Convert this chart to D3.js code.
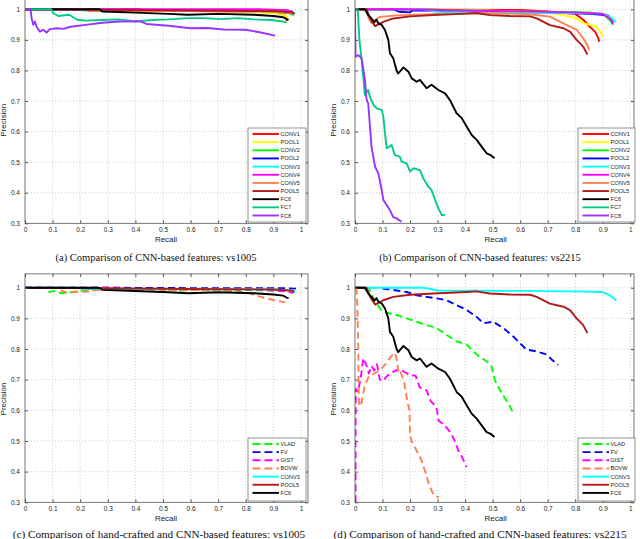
<!DOCTYPE html>
<html>
<head>
<meta charset="utf-8">
<script src="https://cdn.jsdelivr.net/npm/d3@7"></script>
<style>
  body { margin: 0; background: #fff; }
  text { font-family: "Liberation Sans", Arial, sans-serif; fill: #222; }
  .caption { font-family: "Liberation Serif", "Times New Roman", serif; fill: #111; }
</style>
</head>
<body>
<svg id="chart" width="640" height="539"></svg>
<script>
// tick values
const xTicks = [0, 0.1, 0.2, 0.3, 0.4, 0.5, 0.6, 0.7, 0.8, 0.9, 1];
const yTicks = [0.3, 0.4, 0.5, 0.6, 0.7, 0.8, 0.9, 1];

// (a) vs1005, CNN layers  -- [recall, precision]
const a_CONV1 = [[0,1],[0.42,1],[0.43,0.995],[0.6,0.994],[0.8,0.993],[0.9,0.99],[0.94,0.982],[0.95,0.962]];
const a_POOL1 = [[0,1],[0.27,1],[0.37,0.998],[0.8,0.993],[0.93,0.985],[0.955,0.972]];
const a_CONV2 = [[0,1],[0.27,1],[0.35,0.998],[0.85,0.994],[0.95,0.988],[0.97,0.982]];
const a_POOL2 = [[0,1],[0.5,0.998],[0.9,0.994],[0.965,0.988],[0.97,0.984]];
const a_CONV3 = [[0,1],[0.2,1],[0.21,0.996],[0.5,0.996],[0.9,0.995],[0.975,0.99],[0.978,0.985]];
const a_CONV4 = [[0,1],[0.85,1],[0.95,0.997],[0.97,0.992]];
const a_CONV5 = [[0,1],[0.22,1],[0.23,0.994],[0.6,0.994],[0.9,0.992],[0.97,0.987],[0.975,0.98]];
const a_POOL5 = [[0,1],[0.3,0.998],[0.6,0.996],[0.9,0.994],[0.97,0.99],[0.975,0.984]];
const a_FC6 = [[0,1],[0.27,1],[0.28,0.993],[0.4,0.989],[0.52,0.985],[0.59,0.982],[0.7,0.985],[0.83,0.982],[0.9,0.978],[0.935,0.974],[0.948,0.968],[0.955,0.965]];
const a_FC7 = [[0,1],[0.095,1],[0.103,0.987],[0.12,0.978],[0.16,0.982],[0.19,0.966],[0.22,0.963],[0.28,0.965],[0.34,0.967],[0.4,0.96],[0.46,0.965],[0.52,0.967],[0.59,0.971],[0.65,0.971],[0.71,0.968],[0.77,0.971],[0.83,0.967],[0.89,0.965],[0.935,0.96],[0.948,0.957]];
const a_FC8 = [[0,1],[0.02,1],[0.024,0.971],[0.03,0.949],[0.036,0.96],[0.042,0.943],[0.054,0.927],[0.066,0.933],[0.078,0.924],[0.09,0.935],[0.115,0.938],[0.14,0.936],[0.165,0.943],[0.22,0.949],[0.28,0.956],[0.34,0.96],[0.415,0.961],[0.44,0.952],[0.52,0.946],[0.6,0.938],[0.66,0.939],[0.72,0.934],[0.8,0.933],[0.85,0.925],[0.906,0.914]];

// (b) vs2215, CNN layers
const b_CONV1 = [[0,1],[0.6,0.998],[0.7,0.993],[0.8,0.985],[0.83,0.965],[0.853,0.943],[0.872,0.927],[0.884,0.905],[0.887,0.894]];
const b_POOL1 = [[0,1],[0.35,1],[0.45,0.997],[0.7,0.99],[0.757,0.981],[0.805,0.97],[0.829,0.955],[0.853,0.949],[0.878,0.943],[0.89,0.927],[0.902,0.91]];
const b_CONV2 = [[0,1],[0.25,1],[0.4,0.996],[0.7,0.992],[0.85,0.99],[0.9,0.985],[0.925,0.965],[0.938,0.949]];
const b_POOL2 = [[0,1],[0.14,1],[0.16,0.992],[0.2,0.99],[0.21,0.997],[0.4,0.993],[0.7,0.989],[0.85,0.985],[0.92,0.98],[0.938,0.954]];
const b_CONV3 = [[0,1],[0.25,1],[0.3,0.991],[0.5,0.99],[0.8,0.988],[0.9,0.986],[0.926,0.975],[0.944,0.962],[0.948,0.958]];
const b_CONV4 = [[0,1],[0.18,1],[0.5,0.995],[0.8,0.99],[0.9,0.985],[0.925,0.97],[0.938,0.954]];
const b_CONV5 = [[0,1],[0.04,1],[0.05,0.97],[0.06,0.955],[0.07,0.963],[0.09,0.975],[0.15,0.98],[0.3,0.985],[0.5,0.987],[0.6,0.985],[0.65,0.982],[0.708,0.976],[0.757,0.954],[0.805,0.933],[0.829,0.905],[0.844,0.883],[0.851,0.867]];
const b_POOL5 = [[0,1],[0.042,1],[0.055,0.97],[0.073,0.945],[0.103,0.959],[0.139,0.97],[0.2,0.977],[0.285,0.981],[0.406,0.986],[0.44,0.988],[0.49,0.981],[0.563,0.978],[0.636,0.977],[0.66,0.97],[0.708,0.948],[0.757,0.938],[0.781,0.927],[0.805,0.9],[0.829,0.878],[0.844,0.852]];
const b_FC6 = [[0,1],[0.036,1],[0.048,0.981],[0.06,0.97],[0.07,0.958],[0.078,0.966],[0.085,0.954],[0.097,0.949],[0.109,0.932],[0.121,0.9],[0.127,0.856],[0.139,0.84],[0.151,0.8],[0.157,0.79],[0.176,0.81],[0.194,0.796],[0.206,0.774],[0.224,0.763],[0.236,0.769],[0.26,0.742],[0.278,0.753],[0.303,0.736],[0.327,0.725],[0.345,0.703],[0.369,0.66],[0.387,0.645],[0.406,0.616],[0.424,0.589],[0.442,0.573],[0.46,0.551],[0.478,0.529],[0.491,0.524],[0.507,0.513]];
const b_FC7 = [[0,1],[0.01,1],[0.016,0.9],[0.024,0.834],[0.03,0.78],[0.036,0.72],[0.048,0.736],[0.054,0.714],[0.067,0.687],[0.079,0.676],[0.097,0.671],[0.103,0.649],[0.109,0.594],[0.115,0.545],[0.133,0.556],[0.145,0.523],[0.163,0.518],[0.169,0.502],[0.188,0.496],[0.2,0.469],[0.212,0.48],[0.236,0.474],[0.248,0.447],[0.266,0.42],[0.278,0.409],[0.291,0.376],[0.303,0.349],[0.315,0.327],[0.327,0.327]];
const b_FC8 = [[0,1],[0.002,0.845],[0.012,0.85],[0.024,0.84],[0.036,0.77],[0.042,0.705],[0.048,0.692],[0.06,0.55],[0.073,0.485],[0.085,0.463],[0.097,0.409],[0.103,0.376],[0.115,0.36],[0.127,0.343],[0.139,0.32],[0.151,0.316],[0.169,0.305]];

// (c) vs1005, hand-crafted
const c_VLAD = [[0.085,0.985],[0.1,0.988],[0.115,0.99],[0.13,0.982],[0.16,0.984],[0.2,0.99],[0.27,0.995],[0.3,0.997],[0.5,0.995],[0.56,0.99],[0.6,0.993],[0.8,0.992],[0.95,0.99],[0.97,0.988]];
const c_FV = [[0,1],[0.3,1],[0.5,0.999],[0.8,0.998],[0.95,0.998],[0.985,0.997]];
const c_GIST = [[0,1],[0.27,1],[0.33,1],[0.35,0.996],[0.6,0.995],[0.85,0.994],[0.95,0.988],[0.97,0.982]];
const c_BOVW = [[0.13,0.992],[0.14,0.987],[0.16,0.984],[0.19,0.987],[0.22,0.987],[0.26,0.992],[0.4,0.993],[0.7,0.992],[0.8,0.985],[0.85,0.971],[0.9,0.96],[0.942,0.952]];

// (d) vs2215, hand-crafted
const d_VLAD = [[0,1],[0.05,1],[0.067,0.965],[0.091,0.932],[0.103,0.92],[0.127,0.916],[0.151,0.911],[0.188,0.9],[0.224,0.889],[0.26,0.878],[0.297,0.868],[0.333,0.846],[0.369,0.825],[0.406,0.814],[0.442,0.782],[0.478,0.76],[0.496,0.744],[0.509,0.696],[0.52,0.677],[0.533,0.655],[0.545,0.639],[0.557,0.623],[0.569,0.601],[0.579,0.587]];
const d_FV = [[0.1,0.997],[0.121,0.995],[0.151,0.991],[0.188,0.986],[0.224,0.975],[0.26,0.97],[0.297,0.965],[0.333,0.959],[0.369,0.943],[0.406,0.927],[0.442,0.905],[0.466,0.884],[0.502,0.889],[0.539,0.868],[0.575,0.841],[0.599,0.819],[0.623,0.798],[0.66,0.792],[0.696,0.782],[0.714,0.766],[0.738,0.748]];
const d_GIST = [[0.002,0.3],[0.002,0.5],[0.003,0.67],[0.01,0.66],[0.02,0.70],[0.03,0.77],[0.04,0.75],[0.05,0.72],[0.06,0.745],[0.07,0.73],[0.08,0.75],[0.09,0.7],[0.1,0.695],[0.12,0.715],[0.14,0.726],[0.16,0.735],[0.18,0.725],[0.2,0.715],[0.22,0.713],[0.235,0.675],[0.26,0.665],[0.275,0.63],[0.295,0.612],[0.305,0.565],[0.325,0.552],[0.345,0.53],[0.36,0.505],[0.375,0.47],[0.39,0.445],[0.405,0.415]];
const d_BOVW = [[0.005,1],[0.008,0.95],[0.012,0.8],[0.013,0.68],[0.015,0.615],[0.02,0.615],[0.025,0.63],[0.035,0.68],[0.05,0.71],[0.07,0.72],[0.09,0.73],[0.11,0.75],[0.13,0.775],[0.145,0.787],[0.152,0.765],[0.158,0.72],[0.165,0.725],[0.178,0.695],[0.19,0.63],[0.198,0.6],[0.2,0.52],[0.205,0.5],[0.22,0.475],[0.24,0.44],[0.255,0.4],[0.27,0.355],[0.285,0.325],[0.305,0.315]];

// colours
const col = {
    CONV1: "#ff0000", POOL1: "#ffff00", CONV2: "#00ff00", POOL2: "#0000ff",
    CONV3: "#00ffff", CONV4: "#ff00ff", CONV5: "#ff7f50", POOL5: "#b01a1a",
    FC6: "#000000", FC7: "#00cc88", FC8: "#9933ff",
    VLAD: "#00ff00", FV: "#0000ff", GIST: "#ff00ff", BOVW: "#ff7f50"
};

const panels = [
    {
        caption: "(a) Comparison of CNN-based features: vs1005", capSize: 10.5, capX: 156, capY: 261,
        x0: 25, x1: 301, right: 308, y1: 9.3, y03: 223.3, top: 1.045,
        legend: {x: 248, y: 128, w: 58, h: 94},
        series: [["CONV1", a_CONV1], ["POOL1", a_POOL1], ["CONV2", a_CONV2], ["POOL2", a_POOL2],
                 ["CONV3", a_CONV3], ["CONV4", a_CONV4], ["CONV5", a_CONV5], ["POOL5", a_POOL5],
                 ["FC6", a_FC6], ["FC7", a_FC7], ["FC8", a_FC8]]
    },
    {
        caption: "(b) Comparison of CNN-based features: vs2215", capSize: 10.5, capX: 480, capY: 261,
        x0: 355, x1: 630.3, right: 634, y1: 9.3, y03: 223.3, top: 1.045,
        legend: {x: 578, y: 128, w: 57, h: 94},
        series: [["CONV1", b_CONV1], ["POOL1", b_POOL1], ["CONV2", b_CONV2], ["POOL2", b_POOL2],
                 ["CONV3", b_CONV3], ["CONV4", b_CONV4], ["CONV5", b_CONV5], ["POOL5", b_POOL5],
                 ["FC6", b_FC6], ["FC7", b_FC7], ["FC8", b_FC8]]
    },
    {
        caption: "(c) Comparison of hand-crafted and CNN-based features: vs1005", capSize: 11.2, capX: 159, capY: 538,
        x0: 25, x1: 301, right: 308, y1: 287.7, y03: 502.3, top: 1.045,
        legend: {x: 248, y: 438, w: 58, h: 63},
        series: [["VLAD", c_VLAD, true], ["FV", c_FV, true], ["GIST", c_GIST, true], ["BOVW", c_BOVW, true],
                 ["CONV3", a_CONV3], ["POOL5", a_POOL5], ["FC6", a_FC6]]
    },
    {
        caption: "(d) Comparison of hand-crafted and CNN-based features: vs2215", capSize: 11.2, capX: 480, capY: 538,
        x0: 355, x1: 630.3, right: 634, y1: 287.7, y03: 502.3, top: 1.045,
        legend: {x: 578, y: 438, w: 57, h: 63},
        series: [["VLAD", d_VLAD, true], ["FV", d_FV, true], ["GIST", d_GIST, true], ["BOVW", d_BOVW, true],
                 ["CONV3", b_CONV3], ["POOL5", b_POOL5], ["FC6", b_FC6]]
    }
];

const svg = d3.select("#chart");

panels.forEach((p, pi) => {
    const x = d3.scaleLinear().domain([0, 1]).range([p.x0, p.x1]);
    const y = d3.scaleLinear().domain([0.3, 1]).range([p.y03, p.y1]);
    const left = x(0), bottom = y(0.3), top = y(p.top), right = p.right;

    const g = svg.append("g");

    // grid
    g.selectAll(".gx").data(xTicks.filter(d => d > 0)).join("line")
        .attr("x1", d => x(d)).attr("x2", d => x(d))
        .attr("y1", top).attr("y2", bottom)
        .attr("stroke", "#aaa").attr("stroke-width", 0.6).attr("stroke-dasharray", "1,2");
    g.selectAll(".gy").data(yTicks.filter(d => d > 0.3)).join("line")
        .attr("x1", left).attr("x2", right)
        .attr("y1", d => y(d)).attr("y2", d => y(d))
        .attr("stroke", "#aaa").attr("stroke-width", 0.6).attr("stroke-dasharray", "1,2");

    // curves
    const clipId = "clip" + pi;
    g.append("clipPath").attr("id", clipId).append("rect")
        .attr("x", left).attr("y", top).attr("width", right - left).attr("height", bottom - top);
    const line = d3.line().x(d => x(d[0])).y(d => y(d[1]));
    g.append("g").attr("clip-path", `url(#${clipId})`)
        .selectAll("path").data(p.series).join("path")
        .attr("d", d => line(d[1]))
        .attr("fill", "none")
        .attr("stroke", d => col[d[0]])
        .attr("stroke-width", 1.9)
        .attr("stroke-linejoin", "round")
        .attr("stroke-dasharray", d => d[2] ? "7,4" : null);

    // frame
    g.append("rect").attr("x", left).attr("y", top)
        .attr("width", right - left).attr("height", bottom - top)
        .attr("fill", "none").attr("stroke", "#555").attr("stroke-width", 0.8);

    // axes: ticks inside on all sides
    const tk = 3;
    g.append("g").attr("transform", `translate(0,${bottom})`)
        .call(d3.axisBottom(x).tickValues(xTicks).tickSize(-tk).tickPadding(4).tickFormat(d3.format("~g")))
        .call(s => s.select(".domain").remove())
        .call(s => s.selectAll("line").attr("stroke", "#555"))
        .call(s => s.selectAll("text").attr("font-size", 6.5).attr("fill", "#222").attr("font-family", "Liberation Sans, Arial, sans-serif"));
    g.append("g").attr("transform", `translate(0,${top})`)
        .call(d3.axisTop(x).tickValues(xTicks).tickSize(-tk).tickFormat(""))
        .call(s => s.select(".domain").remove())
        .call(s => s.selectAll("line").attr("stroke", "#555"));
    g.append("g").attr("transform", `translate(${left},0)`)
        .call(d3.axisLeft(y).tickValues(yTicks).tickSize(-tk).tickPadding(5).tickFormat(d3.format("~g")))
        .call(s => s.select(".domain").remove())
        .call(s => s.selectAll("line").attr("stroke", "#555"))
        .call(s => s.selectAll("text").attr("font-size", 6.5).attr("fill", "#222").attr("font-family", "Liberation Sans, Arial, sans-serif"));
    g.append("g").attr("transform", `translate(${right},0)`)
        .call(d3.axisRight(y).tickValues(yTicks).tickSize(-tk).tickFormat(""))
        .call(s => s.select(".domain").remove())
        .call(s => s.selectAll("line").attr("stroke", "#555"));

    // axis labels
    g.append("text").attr("x", (left + x(1)) / 2 + 3).attr("y", bottom + 19)
        .attr("text-anchor", "middle").attr("font-size", 8).text("Recall");
    g.append("text")
        .attr("transform", `translate(${left - 19},${(y(0.3) + y(1)) / 2 + 4}) rotate(-90)`)
        .attr("text-anchor", "middle").attr("font-size", 8).text("Precision");

    // legend
    const L = p.legend;
    const lg = g.append("g");
    lg.append("rect").attr("x", L.x).attr("y", L.y).attr("width", L.w).attr("height", L.h)
        .attr("fill", "#fff").attr("stroke", "#666").attr("stroke-width", 0.7);
    const rows = lg.selectAll(".row").data(p.series).join("g")
        .attr("transform", (d, i) => `translate(${L.x},${L.y + 6 + i * 8.15})`);
    rows.append("line").attr("x1", 4.5).attr("x2", 31)
        .attr("stroke", d => col[d[0]]).attr("stroke-width", 1.9)
        .attr("stroke-dasharray", d => d[2] ? "8,4" : null);
    rows.append("text").attr("x", 32.5).attr("y", 2).attr("font-size", 5.6).text(d => d[0]);

    // caption
    svg.append("text").attr("class", "caption")
        .attr("x", p.capX).attr("y", p.capY)
        .attr("text-anchor", "middle").attr("font-size", p.capSize)
        .text(p.caption);
});
</script>
</body>
</html>
